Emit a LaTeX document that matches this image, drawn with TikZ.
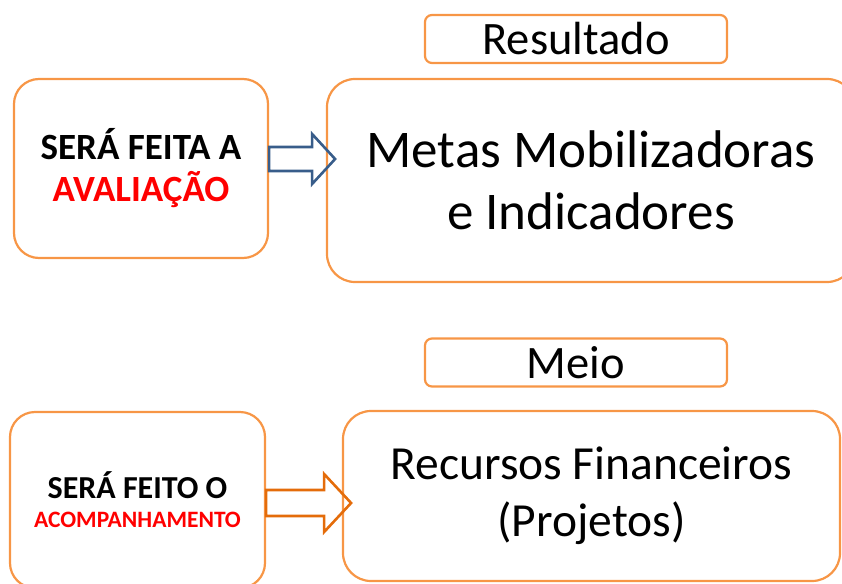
\documentclass[tikz,border=0pt]{standalone}
\usepackage{fontspec}
\setmainfont{Carlito}
\definecolor{boxOrange}{RGB}{247,150,70}
\definecolor{arrowBlue}{RGB}{56,93,138}
\definecolor{arrowOrange}{RGB}{228,108,10}
\definecolor{textRed}{RGB}{255,0,0}

\begin{document}
\begin{tikzpicture}[x=1pt,y=-1pt,
    bigbox/.style={draw=boxOrange, line width=2.2pt, rounded corners=28pt, align=center, inner sep=0pt},
    tagbox/.style={draw=boxOrange, line width=2.2pt, rounded corners=7pt, inner sep=0pt,
      minimum width=302pt, minimum height=48pt, font=\fontsize{46.5}{55}\selectfont},
    blockarrow/.style={line width=2.6pt, line join=miter}]
  \useasboundingbox (0,0) rectangle (842,583);
  \clip (0,0) rectangle (842,583);

  % Top row
  \node[tagbox] (result) at (576,39) {Resultado};
  \node[bigbox, minimum width=254pt, minimum height=179pt, rounded corners=25pt,
    font=\fontsize{37}{42}\selectfont\bfseries] (evalbox) at (141,168.5)
    {SERÁ FEITA A\\\textcolor{textRed}{AVALIAÇÃO}};
  \node[bigbox, minimum width=528pt, minimum height=203pt,
    font=\fontsize{53}{62}\selectfont] (goals) at (591,180.5)
    {Metas Mobilizadoras\\e Indicadores};

  % Bottom row
  \node[tagbox] (means) at (576,362.5) {Meio};
  \node[bigbox, minimum width=255pt, minimum height=176pt, rounded corners=25pt,
    font=\fontsize{32}{29}\selectfont\bfseries] (trackbox) at (137.5,500)
    {SERÁ FEITO O\\{\fontsize{23.5}{29}\selectfont\textcolor{textRed}{ACOMPANHAMENTO}}};
  \node[bigbox, minimum width=497pt, minimum height=170pt,
    font=\fontsize{47.5}{57}\selectfont] (funds) at (591.5,496)
    {Recursos Financeiros\\(Projetos)};

  % Block arrows
  \coordinate (arrowA) at ([yshift=9.5pt]evalbox.east);
  \coordinate (arrowB) at ([yshift=-3pt]trackbox.east);
  \draw[blockarrow, arrowBlue] (arrowA) ++(0,-12) -- ++(43,0) -- ++(0,-13)
    -- ++(23,25) -- ++(-23,25) -- ++(0,-13) -- ++(-43,0) -- cycle;
  \draw[blockarrow, arrowOrange] (arrowB) ++(0,-13) -- ++(58,0) -- ++(0,-16)
    -- ++(27,29) -- ++(-27,29) -- ++(0,-16) -- ++(-58,0) -- cycle;
\end{tikzpicture}
\end{document}
